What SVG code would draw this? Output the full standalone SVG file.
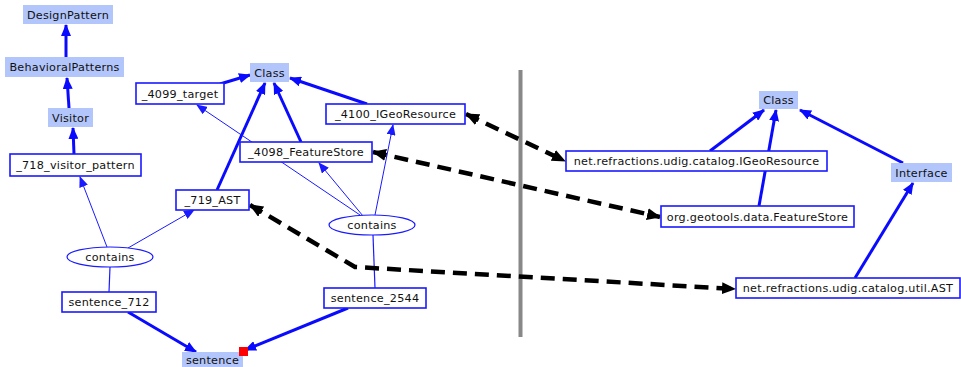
<svg xmlns="http://www.w3.org/2000/svg" width="961" height="367" viewBox="0 0 961 367">
<style>
text{font-family:"DejaVu Sans","Liberation Sans",sans-serif;font-size:11.2px;letter-spacing:0.25px;fill:#111;text-anchor:middle}
.cls{fill:#b3c6fb;stroke:none}
.inst{fill:#fff;stroke:#1a1aff;stroke-width:1.6}
.ell{fill:#fff;stroke:#1a1aff;stroke-width:1.2}
.thick{stroke:#0a0aff;stroke-width:3;fill:none;marker-end:url(#ab)}
.thin{stroke:#1a1aff;stroke-width:1;fill:none;marker-end:url(#as)}
.plain{stroke:#1a1aff;stroke-width:1.2;fill:none}
.dash{stroke:#000;stroke-width:4.5;fill:none;stroke-dasharray:14 8;marker-start:url(#ds);marker-end:url(#de)}
</style>
<defs>
<marker id="ab" markerUnits="userSpaceOnUse" markerWidth="12" markerHeight="10" refX="11" refY="5" orient="auto"><path d="M0,0 L12,5 L0,10 Z" fill="#0a0aff"/></marker>
<marker id="as" markerUnits="userSpaceOnUse" markerWidth="11" markerHeight="9" refX="10" refY="4.5" orient="auto"><path d="M0,0 L11,4.5 L0,9 Z" fill="#1a1aff"/></marker>
<marker id="de" markerUnits="userSpaceOnUse" markerWidth="14" markerHeight="12" refX="13" refY="6" orient="auto"><path d="M0,0 L14,6 L0,12 Z" fill="#000"/></marker>
<marker id="ds" markerUnits="userSpaceOnUse" markerWidth="14" markerHeight="12" refX="1" refY="6" orient="auto"><path d="M14,0 L0,6 L14,12 Z" fill="#000"/></marker>
</defs>
<rect width="961" height="367" fill="#fff"/>
<rect x="518.5" y="70" width="4" height="267" fill="#888"/>
<g id="connectors">
<line class="thick" x1="66" y1="57" x2="66" y2="25"/>
<line class="thick" x1="69" y1="108" x2="67" y2="78"/>
<line class="thick" x1="74" y1="154" x2="73" y2="128"/>
<line class="thin" x1="107" y1="247" x2="80" y2="177"/>
<line class="thin" x1="128" y1="248" x2="194" y2="210"/>
<line class="plain" x1="110" y1="267" x2="109" y2="292"/>
<line class="thick" x1="128" y1="312" x2="196" y2="352"/>
<line class="thick" x1="348" y1="308" x2="245" y2="350"/>
<line class="thick" x1="217" y1="190" x2="265" y2="83"/>
<line class="thick" x1="220" y1="84" x2="250" y2="75"/>
<line class="thick" x1="301" y1="142" x2="274" y2="83"/>
<line class="thick" x1="367" y1="104" x2="290" y2="78"/>
<line class="thin" x1="360" y1="215" x2="197" y2="105"/>
<line class="thin" x1="363" y1="216" x2="319" y2="163"/>
<line class="thin" x1="375" y1="215" x2="393" y2="125"/>
<line class="plain" x1="373" y1="235" x2="375" y2="288"/>
<line class="dash" x1="466" y1="114" x2="565" y2="161"/>
<line class="dash" x1="373" y1="152" x2="660" y2="217"/>
<polyline class="dash" points="250,205 355,267 735,289"/>
<line class="thick" x1="710" y1="151" x2="764" y2="110"/>
<line class="thick" x1="759" y1="206" x2="776" y2="110"/>
<line class="thick" x1="903" y1="163" x2="800" y2="110"/>
<line class="thick" x1="855" y1="278" x2="913" y2="183"/>
</g>
<g id="DesignPattern"><rect class="cls" x="23" y="5" width="90" height="19"/><text x="68" y="18.5">DesignPattern</text></g>
<g id="BehavioralPatterns"><rect class="cls" x="5" y="57" width="119" height="20"/><text x="64.5" y="71">BehavioralPatterns</text></g>
<g id="Visitor"><rect class="cls" x="48" y="108" width="45" height="19"/><text x="70.5" y="121.5">Visitor</text></g>
<g id="n718"><rect class="inst" x="10" y="154" width="131" height="22"/><text x="75.5" y="169">_718_visitor_pattern</text></g>
<g id="Class1"><rect class="cls" x="250" y="63" width="39" height="19"/><text x="269.5" y="76.5">Class</text></g>
<g id="n4099"><rect class="inst" x="136" y="83" width="88" height="21"/><text x="180" y="97.5">_4099_target</text></g>
<g id="n4100"><rect class="inst" x="326" y="104" width="139" height="20"/><text x="395.5" y="118">_4100_IGeoResource</text></g>
<g id="n4098"><rect class="inst" x="240" y="142" width="132" height="20"/><text x="306" y="156">_4098_FeatureStore</text></g>
<g id="n719"><rect class="inst" x="176" y="190" width="73" height="20"/><text x="212.5" y="204">_719_AST</text></g>
<g id="contains1"><ellipse class="ell" cx="110" cy="257" rx="43" ry="10"/><text x="110" y="261">contains</text></g>
<g id="contains2"><ellipse class="ell" cx="372" cy="225" rx="43" ry="10"/><text x="372" y="229">contains</text></g>
<g id="sentence_712"><rect class="inst" x="62" y="292" width="94" height="20"/><text x="109" y="306">sentence_712</text></g>
<g id="sentence_2544"><rect class="inst" x="324" y="288" width="102" height="20"/><text x="375" y="302">sentence_2544</text></g>
<g id="sentence"><rect class="cls" x="182" y="352" width="61" height="16"/><text x="212.5" y="364">sentence</text><rect x="239" y="347" width="9" height="9" fill="#f00"/></g>
<g id="Class2"><rect class="cls" x="759" y="91" width="39" height="18"/><text x="778.5" y="104">Class</text></g>
<g id="IGeoResource"><rect class="inst" x="566" y="151" width="261" height="20"/><text x="696.5" y="165">net.refractions.udig.catalog.IGeoResource</text></g>
<g id="Interface"><rect class="cls" x="891" y="163" width="61" height="19"/><text x="921.5" y="176.5">Interface</text></g>
<g id="FeatureStore"><rect class="inst" x="661" y="206" width="193" height="21"/><text x="757.5" y="220.5">org.geotools.data.FeatureStore</text></g>
<g id="AST"><rect class="inst" x="736" y="278" width="224" height="20"/><text x="848" y="292">net.refractions.udig.catalog.util.AST</text></g>
</svg>
